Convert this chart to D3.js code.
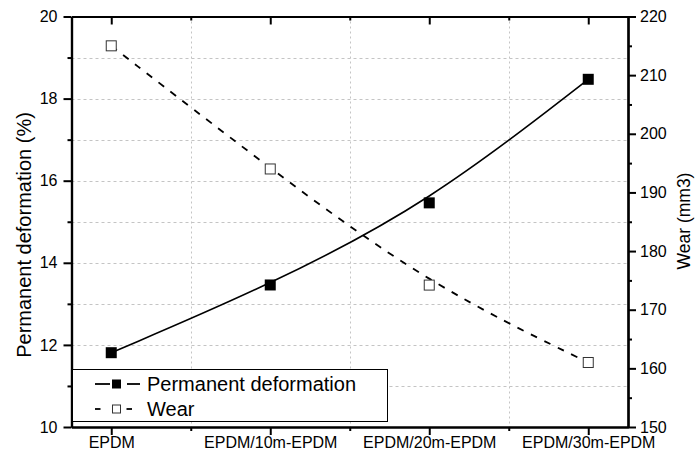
<!DOCTYPE html>
<html>
<head>
<meta charset="utf-8">
<script src="https://cdn.jsdelivr.net/npm/d3@7"></script>
<style>
  body { margin: 0; background: #fff; }
  svg { display: block; font-family: "Liberation Sans", Arial, sans-serif; }
</style>
</head>
<body>
<div id="content"></div>
<script>
// data
const categories = ["EPDM", "EPDM/10m-EPDM", "EPDM/20m-EPDM", "EPDM/30m-EPDM"];
const deformation = [11.81, 13.46, 15.46, 18.47];
const wear = [215.0, 194.0, 174.2, 161.0];
const leftTicks = [10, 12, 14, 16, 18, 20];
const rightTicks = [150, 160, 170, 180, 190, 200, 210, 220];

const W = 695, H = 459;
const plotL = 71.5, plotR = 628, plotT = 16.5, plotB = 427;

const svg = d3.select('#content').append('svg')
  .attr('width', W)
  .attr('height', H);

let x = d3.scaleLinear().domain([-0.25, 3.25]).range([plotL, plotR]);
let yL = d3.scaleLinear().domain([10, 20]).range([plotB, plotT]);
let yR = d3.scaleLinear().domain([150, 220]).range([plotB, plotT]);

const idx = categories.map((d, i) => i);
const halfIdx = [0.5, 1.5, 2.5];

// grid
const grid = svg.append('g')
  .attr('stroke', '#c4c4c4')
  .attr('stroke-width', 1)
  .attr('stroke-dasharray', '3,3');
grid.selectAll('line.h')
  .data(d3.range(11, 20))
  .join('line')
  .attr('class', 'h')
  .attr('x1', plotL).attr('x2', plotR)
  .attr('y1', d => Math.round(yL(d)) + 0.5)
  .attr('y2', d => Math.round(yL(d)) + 0.5);
grid.selectAll('line.v')
  .data(halfIdx)
  .join('line')
  .attr('class', 'v')
  .attr('stroke-dasharray', '2,3')
  .attr('y1', plotT).attr('y2', plotB)
  .attr('x1', d => Math.round(x(d)) + 0.5)
  .attr('x2', d => Math.round(x(d)) + 0.5);

// axes
function styleAxis(g) {
  g.selectAll('.domain').attr('stroke-width', 2.2);
  g.selectAll('.tick line').attr('stroke-width', 2);
  g.selectAll('text').attr('font-size', 16).attr('fill', '#000')
    .attr('font-family', '"Liberation Sans", Arial, sans-serif');
}

// bottom
svg.append('g').attr('transform', `translate(0,${plotB})`)
  .call(d3.axisBottom(x).tickValues(halfIdx).tickSize(4).tickSizeOuter(0).tickFormat(''))
  .call(styleAxis);
svg.append('g').attr('transform', `translate(0,${plotB})`)
  .call(d3.axisBottom(x).tickValues(idx).tickSize(8).tickSizeOuter(0).tickPadding(6)
    .tickFormat(i => categories[i]))
  .call(styleAxis)
  .call(g => g.selectAll('text').attr('dy', null).attr('y', 21));

// top
svg.append('g').attr('transform', `translate(0,${plotT})`)
  .call(d3.axisBottom(x).tickValues(halfIdx).tickSize(4).tickSizeOuter(0).tickFormat(''))
  .call(styleAxis);
svg.append('g').attr('transform', `translate(0,${plotT})`)
  .call(d3.axisBottom(x).tickValues(idx).tickSize(8).tickSizeOuter(0).tickFormat(''))
  .call(styleAxis);

// left
svg.append('g').attr('transform', `translate(${plotL},0)`)
  .call(d3.axisLeft(yL).tickValues(d3.range(11, 20, 2)).tickSize(4).tickSizeOuter(0).tickFormat(''))
  .call(styleAxis);
svg.append('g').attr('transform', `translate(${plotL},0)`)
  .call(d3.axisLeft(yL).tickValues(leftTicks).tickSize(8).tickSizeOuter(0).tickPadding(6))
  .call(styleAxis);

// right
svg.append('g').attr('transform', `translate(${plotR},0)`)
  .call(d3.axisRight(yR).tickValues(d3.range(155, 220, 10)).tickSize(4).tickSizeOuter(0).tickFormat(''))
  .call(styleAxis);
svg.append('g').attr('transform', `translate(${plotR},0)`)
  .call(d3.axisRight(yR).tickValues(rightTicks).tickSize(8).tickSizeOuter(0).tickPadding(4))
  .call(styleAxis);

// axis titles
svg.append('text')
  .attr('transform', 'translate(31,235) rotate(-90)')
  .attr('text-anchor', 'middle')
  .attr('font-size', 20)
  .text('Permanent deformation (%)');
svg.append('text')
  .attr('transform', 'translate(690,221) rotate(-90)')
  .attr('text-anchor', 'middle')
  .attr('font-size', 17.5)
  .text('Wear (mm3)');

// lines
const pdLine = d3.line()
  .x((d, i) => x(i))
  .y(d => yL(d))
  .curve(d3.curveBasis);
const wearLine = d3.line()
  .x((d, i) => x(i))
  .y(d => yR(d))
  .curve(d3.curveBasis);

svg.append('path')
  .datum(wear)
  .attr('d', wearLine)
  .attr('fill', 'none')
  .attr('stroke', '#000')
  .attr('stroke-width', 1.8)
  .attr('stroke-dasharray', '7,8');

svg.append('path')
  .datum(deformation)
  .attr('d', pdLine)
  .attr('fill', 'none')
  .attr('stroke', '#000')
  .attr('stroke-width', 1.6);

// markers
const s = 11;
svg.selectAll('rect.pd')
  .data(deformation)
  .join('rect')
  .attr('class', 'pd')
  .attr('x', (d, i) => x(i) - s / 2)
  .attr('y', d => yL(d) - s / 2)
  .attr('width', s).attr('height', s)
  .attr('fill', '#000');

svg.selectAll('rect.wear')
  .data(wear)
  .join('rect')
  .attr('class', 'wear')
  .attr('x', (d, i) => x(i) - s / 2 + 0.5)
  .attr('y', d => yR(d) - s / 2 + 0.5)
  .attr('width', s - 1).attr('height', s - 1)
  .attr('fill', '#fff')
  .attr('stroke', '#333')
  .attr('stroke-width', 1);

// legend
const lg = svg.append('g');
lg.append('rect')
  .attr('x', 72.5).attr('y', 369.5)
  .attr('width', 315).attr('height', 52)
  .attr('fill', '#fff')
  .attr('stroke', '#000')
  .attr('stroke-width', 1);

const legendItems = [
  { name: 'Permanent deformation', y: 384, filled: true },
  { name: 'Wear', y: 409, filled: false }
];
legendItems.forEach(item => {
  const segs = item.filled ? [[95, 110], [127, 140]] : [[95, 100.5], [126.5, 132]];
  segs.forEach(sg => {
    lg.append('line')
      .attr('x1', sg[0]).attr('x2', sg[1])
      .attr('y1', item.y).attr('y2', item.y)
      .attr('stroke', '#000').attr('stroke-width', 1.8);
  });
  if (item.filled) {
    lg.append('rect').attr('x', 112).attr('y', item.y - 4.5)
      .attr('width', 9).attr('height', 9).attr('fill', '#000');
  } else {
    lg.append('rect').attr('x', 112.5).attr('y', item.y - 4)
      .attr('width', 8).attr('height', 8)
      .attr('fill', '#fff').attr('stroke', '#333').attr('stroke-width', 1);
  }
  lg.append('text')
    .attr('x', 147).attr('y', item.y + 7)
    .attr('font-size', 20)
    .text(item.name);
});
</script>
</body>
</html>
